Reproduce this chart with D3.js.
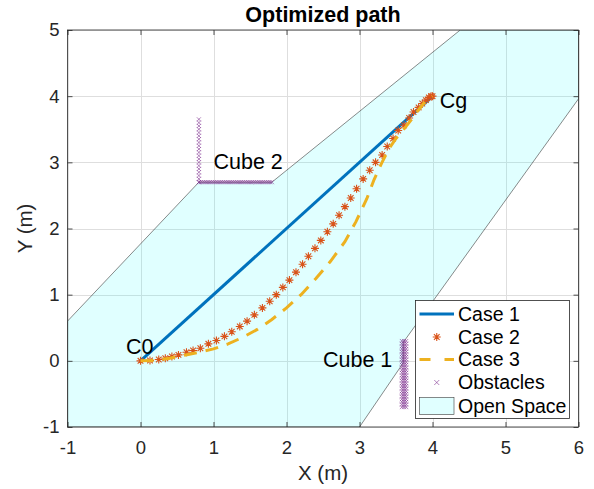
<!DOCTYPE html>
<html>
<head>
<meta charset="utf-8">
<script src="https://cdn.jsdelivr.net/npm/d3@7"></script>
<style>
  html, body { margin: 0; padding: 0; background: #fff; }
  svg { display: block; }
  text { font-family: "Liberation Sans", Arial, Helvetica, sans-serif; fill: #262626; }
</style>
</head>
<body>
<svg id="chart" width="594" height="489"></svg>
<script>
// ---- data ----
const xTicks = [-1, 0, 1, 2, 3, 4, 5, 6];
const yTicks = [-1, 0, 1, 2, 3, 4, 5];

// Case 1: straight path from start to goal
const case1X = [0, 4];
const case1Y = [0, 4];

// Case 2: optimized path (asterisk markers)
const case2X = [0, 0.13, 0.25, 0.34, 0.43, 0.52, 0.63, 0.72, 0.82, 0.93,
  1.04, 1.15, 1.25, 1.36, 1.46, 1.56, 1.67, 1.77, 1.86, 1.95,
  2.04, 2.13, 2.22, 2.30, 2.39, 2.47, 2.56, 2.64, 2.72, 2.80,
  2.88, 2.96, 3.05, 3.14, 3.22, 3.31, 3.38, 3.46, 3.53, 3.61,
  3.68, 3.74, 3.81, 3.86, 3.91, 3.95, 3.98, 4.0];
const case2Y = [0, 0.005, 0.02, 0.04, 0.065, 0.09, 0.13, 0.156, 0.19, 0.257,
  0.307, 0.37, 0.44, 0.52, 0.60, 0.695, 0.80, 0.90, 1.0, 1.11,
  1.22, 1.34, 1.46, 1.58, 1.70, 1.82, 1.95, 2.07, 2.20, 2.33,
  2.46, 2.60, 2.75, 2.88, 3.00, 3.11, 3.24, 3.36, 3.48, 3.56,
  3.67, 3.76, 3.83, 3.89, 3.94, 3.98, 4.0, 4.0];

// Case 3: optimized path (dashed)
const case3X = [0, 0.2, 0.4, 0.6, 0.8, 1.0, 1.2, 1.4, 1.6, 1.8, 2.0, 2.2, 2.4,
  2.6, 2.8, 2.95, 3.1, 3.2, 3.3, 3.4, 3.5, 3.6, 3.7, 3.8, 3.9, 4.0];
const case3Y = [0, 0.005, 0.04, 0.085, 0.13, 0.18, 0.255, 0.355, 0.475, 0.625, 0.8, 1.0, 1.24,
  1.5, 1.8, 2.1, 2.45, 2.74, 2.98, 3.2, 3.36, 3.49, 3.63, 3.78, 3.92, 4.0];

// Obstacle samples: Cube 2 (vertical and horizontal edges)
const cube2VertX = [0.8];
const cube2VertY = [2.70, 2.75, 2.80, 2.85, 2.90, 2.95, 3.00, 3.05, 3.10, 3.15,
  3.20, 3.25, 3.30, 3.35, 3.40, 3.45, 3.50, 3.55, 3.60, 3.65];
const cube2HorzX = [0.800, 0.825, 0.850, 0.875, 0.900, 0.925, 0.950, 0.975, 1.000, 1.025,
  1.050, 1.075, 1.100, 1.125, 1.150, 1.175, 1.200, 1.225, 1.250, 1.275,
  1.300, 1.325, 1.350, 1.375, 1.400, 1.425, 1.450, 1.475, 1.500, 1.525,
  1.550, 1.575, 1.600, 1.625, 1.650, 1.675, 1.700, 1.725, 1.750, 1.775, 1.800];
const cube2HorzY = [2.70];
// Cube 1 (narrow vertical block)
const cube1X = [3.58, 3.61, 3.64];
const cube1Y = [-0.70, -0.66, -0.62, -0.58, -0.54, -0.50, -0.46, -0.42, -0.38, -0.34,
  -0.30, -0.26, -0.22, -0.18, -0.14, -0.10, -0.06, -0.02, 0.02, 0.06,
  0.10, 0.14, 0.18, 0.22, 0.26, 0.30];

// Open space polygon vertices
const openX = [-1, 3, 3.6, 3.6, 6, 6, 4.38, 1.8, 0.8, -1];
const openY = [-1, -1, -0.03, 0.28, 3.96, 5, 5, 2.7, 2.7, 0.6];

// Text annotations
const noteText = ["C0", "Cg", "Cube 2", "Cube 1"];
const noteX = [-0.2, 4.1, 1.0, 2.5];
const noteY = [0.11, 3.82, 2.9, -0.1];

const legendLabels = ["Case 1", "Case 2", "Case 3", "Obstacles", "Open Space"];

// ---- layout ----
const W = 594, H = 489;
const plot = { left: 67.5, right: 578.5, top: 30, bottom: 427 };
const colors = { c1: "#0072BD", c2: "#D95319", c3: "#EDB120", obs: "#7E2F8E", axis: "#262626" };

const svg = d3.select("#chart");
svg.append("rect").attr("width", W).attr("height", H).attr("fill", "#fff");

const x = d3.scaleLinear().domain([-1, 6]).range([plot.left, plot.right]);
const y = d3.scaleLinear().domain([-1, 5]).range([plot.bottom, plot.top]);

svg.append("defs").append("clipPath").attr("id", "plotClip")
  .append("rect")
  .attr("x", plot.left).attr("y", plot.top)
  .attr("width", plot.right - plot.left).attr("height", plot.bottom - plot.top);

// grid
const grid = svg.append("g").attr("stroke", "#dedede").attr("stroke-width", 1);
grid.selectAll(".gx").data(xTicks).join("line")
  .attr("x1", d => Math.round(x(d)) + 0.5).attr("x2", d => Math.round(x(d)) + 0.5)
  .attr("y1", plot.top).attr("y2", plot.bottom);
grid.selectAll(".gy").data(yTicks).join("line")
  .attr("y1", d => Math.round(y(d)) + 0.5).attr("y2", d => Math.round(y(d)) + 0.5)
  .attr("x1", plot.left).attr("x2", plot.right);

const content = svg.append("g").attr("clip-path", "url(#plotClip)");

// open space
const openPts = openX.map((v, i) => [v, openY[i]]);
content.append("path")
  .attr("d", d3.line().x(d => x(d[0])).y(d => y(d[1]))(openPts) + "Z")
  .attr("fill", "#00ffff").attr("fill-opacity", 0.12)
  .attr("stroke", "#3a3a3a").attr("stroke-width", 0.6);

const line = d3.line().x(d => x(d[0])).y(d => y(d[1]));

// Case 1
content.append("path")
  .attr("d", line(case1X.map((v, i) => [v, case1Y[i]])))
  .attr("fill", "none").attr("stroke", colors.c1).attr("stroke-width", 3);

// Case 2 asterisks
const starPath = r => {
  const d = r * 0.7071;
  return `M${-r},0H${r}M0,${-r}V${r}M${-d},${-d}L${d},${d}M${-d},${d}L${d},${-d}`;
};
content.append("g").selectAll("path")
  .data(case2X.map((v, i) => [v, case2Y[i]]))
  .join("path")
  .attr("transform", d => `translate(${x(d[0])},${y(d[1])})`)
  .attr("d", starPath(4))
  .attr("fill", "none").attr("stroke", colors.c2).attr("stroke-width", 1.1);

// Case 3
content.append("path")
  .attr("d", line(case3X.map((v, i) => [v, case3Y[i]])))
  .attr("fill", "none").attr("stroke", colors.c3).attr("stroke-width", 3)
  .attr("stroke-dasharray", "13,9");

// Obstacles
const obsPts = [];
cube2VertX.forEach(a => cube2VertY.forEach(b => obsPts.push([a, b])));
cube2HorzY.forEach(b => cube2HorzX.forEach(a => obsPts.push([a, b])));
cube1X.forEach(a => cube1Y.forEach(b => obsPts.push([a, b])));
const xPath = r => `M${-r},${-r}L${r},${r}M${-r},${r}L${r},${-r}`;
content.append("g").selectAll("path")
  .data(obsPts).join("path")
  .attr("transform", d => `translate(${x(d[0])},${y(d[1])})`)
  .attr("d", xPath(2))
  .attr("fill", "none").attr("stroke", colors.obs).attr("stroke-width", 0.6);

// annotations
svg.append("g").selectAll("text")
  .data(noteText).join("text")
  .attr("x", (d, i) => x(noteX[i])).attr("y", (d, i) => y(noteY[i]))
  .attr("font-size", 21.5).style("fill", "#000")
  .text(d => d);

// axes
const axStyle = g => {
  g.select(".domain").remove();
  g.selectAll(".tick line").attr("stroke", colors.axis).attr("stroke-width", 0.8);
  g.selectAll(".tick text").attr("font-size", 18.5).attr("fill", colors.axis)
    .style("font-family", '"Liberation Sans", Arial, sans-serif');
};
const fmt = d => String(d);
svg.append("g").attr("transform", `translate(0,${plot.bottom})`)
  .call(d3.axisBottom(x).tickValues(xTicks).tickFormat(fmt).tickSize(-5).tickPadding(14))
  .call(axStyle);
svg.append("g").attr("transform", `translate(0,${plot.top})`)
  .call(d3.axisTop(x).tickValues(xTicks).tickFormat("").tickSize(-5))
  .call(axStyle);
svg.append("g").attr("transform", `translate(${plot.left},0)`)
  .call(d3.axisLeft(y).tickValues(yTicks).tickFormat(fmt).tickSize(-5).tickPadding(8))
  .call(axStyle);
svg.append("g").attr("transform", `translate(${plot.right},0)`)
  .call(d3.axisRight(y).tickValues(yTicks).tickFormat("").tickSize(-5))
  .call(axStyle);
svg.append("rect")
  .attr("x", plot.left).attr("y", plot.top)
  .attr("width", plot.right - plot.left).attr("height", plot.bottom - plot.top)
  .attr("fill", "none").attr("stroke", colors.axis).attr("stroke-width", 0.8);

// labels
svg.append("text").attr("x", (plot.left + plot.right) / 2).attr("y", 21.5)
  .attr("text-anchor", "middle").attr("font-size", 21.5).attr("font-weight", "bold")
  .style("fill", "#000").text("Optimized path");
svg.append("text").attr("x", (plot.left + plot.right) / 2).attr("y", 480)
  .attr("text-anchor", "middle").attr("font-size", 20.5).text("X (m)");
svg.append("text")
  .attr("transform", `translate(31.5,${(plot.top + plot.bottom) / 2}) rotate(-90)`)
  .attr("text-anchor", "middle").attr("font-size", 20.5).text("Y (m)");

// legend
const lg = svg.append("g");
lg.append("rect").attr("x", 415.5).attr("y", 300.5).attr("width", 154).attr("height", 118)
  .attr("fill", "#fff").attr("stroke", colors.axis).attr("stroke-width", 0.8);
const rowY = [314, 337, 359.5, 382.5, 406];
const sx0 = 419.5, sx1 = 454, sxm = (sx0 + sx1) / 2;
lg.append("line").attr("x1", sx0).attr("x2", sx1).attr("y1", rowY[0]).attr("y2", rowY[0])
  .attr("stroke", colors.c1).attr("stroke-width", 3);
lg.append("path").attr("transform", `translate(${sxm},${rowY[1]})`).attr("d", starPath(4))
  .attr("fill", "none").attr("stroke", colors.c2).attr("stroke-width", 1.1);
lg.append("line").attr("x1", sx0).attr("x2", sx1).attr("y1", rowY[2]).attr("y2", rowY[2])
  .attr("stroke", colors.c3).attr("stroke-width", 3).attr("stroke-dasharray", "11,14");
lg.append("path").attr("transform", `translate(${sxm},${rowY[3]})`).attr("d", xPath(2.5))
  .attr("fill", "none").attr("stroke", colors.obs).attr("stroke-width", 0.6);
lg.append("rect").attr("x", sx0).attr("y", rowY[4] - 8.5).attr("width", sx1 - sx0).attr("height", 17)
  .attr("fill", "#00ffff").attr("fill-opacity", 0.12).attr("stroke", "#3a3a3a").attr("stroke-width", 0.6);
lg.selectAll(".lt").data(legendLabels).join("text")
  .attr("x", 458).attr("y", (d, i) => rowY[i]).attr("dy", "0.35em")
  .attr("font-size", 19.5).style("fill", "#000").text(d => d);
</script>
</body>
</html>
